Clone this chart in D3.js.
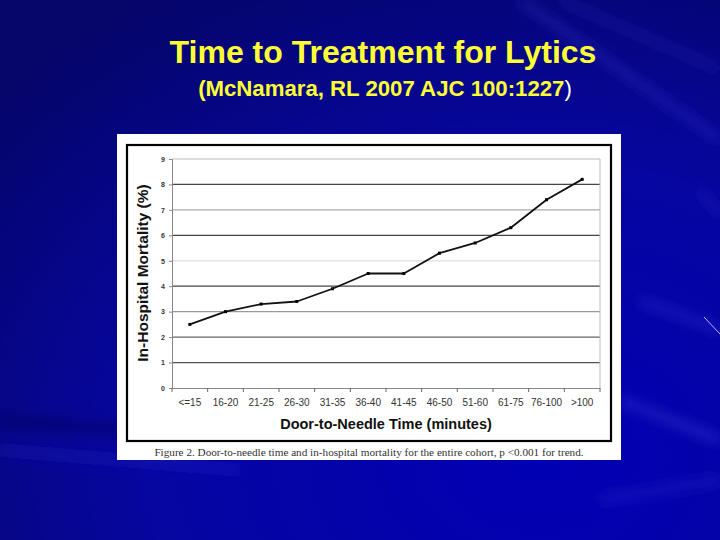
<!DOCTYPE html>
<html><head><meta charset="utf-8">
<script src="https://cdn.jsdelivr.net/npm/d3@7"></script>
<style>html,body{margin:0;padding:0;background:#0a0a8c;}svg{display:block;}</style>
</head><body>
<script>
const categories = ["<=15","16-20","21-25","26-30","31-35","36-40","41-45","46-50","51-60","61-75","76-100",">100"];
const mortality = [2.5, 3.0, 3.3, 3.4, 3.9, 4.5, 4.5, 5.3, 5.7, 6.3, 7.4, 8.2];
const yTicks = [0,1,2,3,4,5,6,7,8,9];
const gridShade = {0:"#888",1:"#555",2:"#666",3:"#999",4:"#444",5:"#ddd",6:"#444",7:"#aaa",8:"#444",9:"#bbb"};

const W = 720, H = 540;
const svg = d3.select("body").append("svg").attr("width", W).attr("height", H);
const defs = svg.append("defs");

// background gradient
const bg = defs.append("radialGradient").attr("id","bg").attr("cx","0.75").attr("cy","0.85").attr("r","1.0");
bg.append("stop").attr("offset","0").attr("stop-color","#0000b4");
bg.append("stop").attr("offset","0.55").attr("stop-color","#0606a0");
bg.append("stop").attr("offset","1").attr("stop-color","#05056a");
svg.append("rect").attr("width",W).attr("height",H).attr("fill","url(#bg)");

// soft streaks
const blur = defs.append("filter").attr("id","blur").attr("x","-50%").attr("y","-50%").attr("width","200%").attr("height","200%");
blur.append("feGaussianBlur").attr("stdDeviation","6");
const streaks = [
  [520,0,720,140,"#3a3ad8",0.3,10],
  [560,0,720,70,"#2a2ac8",0.3,8],
  [640,300,720,330,"#4a4ae0",0.3,8],
  [620,400,720,440,"#5050e8",0.3,10],
  [600,500,720,480,"#3a3ad8",0.25,10],
  [0,450,240,470,"#1a1ac8",0.3,14],
  [0,420,120,430,"#03035a",0.5,10],
  [700,190,720,215,"#3838d0",0.35,6]
];
svg.append("g").attr("filter","url(#blur)").selectAll("line").data(streaks).join("line")
  .attr("x1",d=>d[0]).attr("y1",d=>d[1]).attr("x2",d=>d[2]).attr("y2",d=>d[3])
  .attr("stroke",d=>d[4]).attr("stroke-opacity",d=>d[5]).attr("stroke-width",d=>d[6]);
svg.append("line").attr("x1",704).attr("y1",317).attr("x2",720).attr("y2",334)
  .attr("stroke","#c8a8ff").attr("stroke-width",1);

// titles
svg.append("text").attr("x",383).attr("y",63).attr("text-anchor","middle")
  .attr("font-family","Liberation Sans, Arial, sans-serif").attr("font-weight","bold")
  .attr("font-size",32).attr("fill","#ffff33").text("Time to Treatment for Lytics");
const sub = svg.append("text").attr("x",385).attr("y",96).attr("text-anchor","middle")
  .attr("font-family","Liberation Sans, Arial, sans-serif").attr("font-weight","bold")
  .attr("font-size",22.2).attr("fill","#ffff33");
sub.append("tspan").text("(McNamara, RL 2007 AJC 100:1227");
sub.append("tspan").attr("fill","#ffffff").attr("font-weight","normal").text(")");

// white figure box
svg.append("rect").attr("x",117).attr("y",134).attr("width",504).attr("height",326).attr("fill","#ffffff");
svg.append("rect").attr("x",127).attr("y",145).attr("width",484).attr("height",296)
  .attr("fill","#ffffff").attr("stroke","#000").attr("stroke-width",2.2);

// plot
const x = d3.scaleBand().domain(categories).range([172,600]);
const y = d3.scaleLinear().domain([0,9]).range([388,159]);

const grid = svg.append("g");
grid.selectAll("line").data(yTicks.filter(t=>t>0)).join("line")
  .attr("x1",172).attr("x2",600).attr("y1",d=>y(d)).attr("y2",d=>y(d))
  .attr("stroke",d=>gridShade[d]).attr("stroke-width",1.2);
svg.append("line").attr("x1",600).attr("x2",600).attr("y1",y(9)).attr("y2",y(0))
  .attr("stroke","#bbb").attr("stroke-width",1);

const yAxis = svg.append("g").attr("transform","translate(172,0)")
  .call(d3.axisLeft(y).tickValues(yTicks).tickSize(3).tickPadding(4).tickFormat(d3.format("d")));
yAxis.select(".domain").attr("stroke","#888");
yAxis.selectAll(".tick line").attr("stroke","#888");
yAxis.selectAll("text").attr("font-family","Liberation Sans, Arial, sans-serif").attr("font-size",7).attr("font-weight","bold").attr("fill","#333");

const xAxis = svg.append("g").attr("transform","translate(0,388)")
  .call(d3.axisBottom(x).tickSize(0).tickPadding(11));
xAxis.select(".domain").attr("stroke","#888");
xAxis.selectAll("text").attr("font-family","Liberation Sans, Arial, sans-serif").attr("font-size",10).attr("fill","#333");
// tick marks at band boundaries
const bounds = categories.map(c=>x(c)).concat([600]);
svg.append("g").selectAll("line").data(bounds).join("line")
  .attr("x1",d=>d).attr("x2",d=>d).attr("y1",388).attr("y2",392)
  .attr("stroke","#666").attr("stroke-width",1);

// line
const line = d3.line().x((d,i)=>x(categories[i])+x.bandwidth()/2).y(d=>y(d));
svg.append("path").datum(mortality).attr("d",line).attr("fill","none")
  .attr("stroke","#111").attr("stroke-width",1.8).attr("stroke-linejoin","round");
svg.append("g").selectAll("rect").data(mortality).join("rect")
  .attr("x",(d,i)=>x(categories[i])+x.bandwidth()/2-1.5).attr("y",d=>y(d)-1.5)
  .attr("width",3).attr("height",3).attr("fill","#000");

// axis titles
svg.append("text").attr("x",386).attr("y",429).attr("text-anchor","middle")
  .attr("font-family","Liberation Sans, Arial, sans-serif").attr("font-weight","bold")
  .attr("font-size",14.5).attr("fill","#111").text("Door-to-Needle Time (minutes)");
svg.append("text").attr("transform","translate(148,273) rotate(-90)").attr("text-anchor","middle")
  .attr("font-family","Liberation Sans, Arial, sans-serif").attr("font-weight","bold")
  .attr("font-size",15.5).attr("fill","#111").text("In-Hospital Mortality (%)");

// caption
svg.append("text").attr("x",369).attr("y",456).attr("text-anchor","middle")
  .attr("font-family","Liberation Serif, Times New Roman, serif")
  .attr("font-size",11.2).attr("fill","#333")
  .text("Figure 2. Door-to-needle time and in-hospital mortality for the entire cohort, p <0.001 for trend.");
</script>
</body></html>
